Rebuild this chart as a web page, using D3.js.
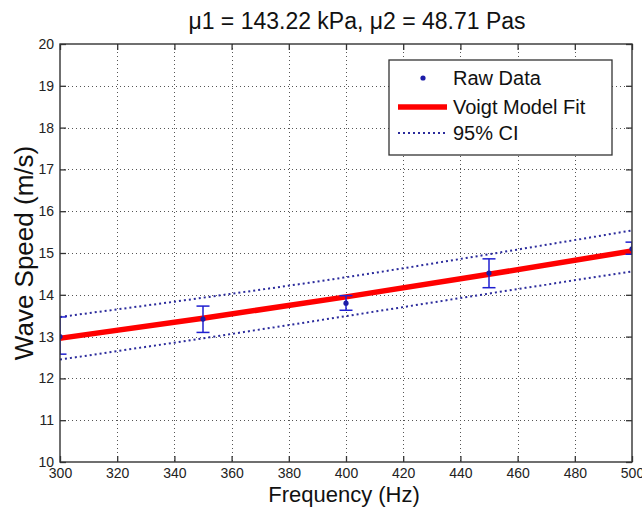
<!DOCTYPE html>
<html>
<head>
<meta charset="utf-8">
<script src="https://cdn.jsdelivr.net/npm/d3@7"></script>
<style>
  body { margin: 0; background: #fff; }
  svg { display: block; font-family: "Liberation Sans", Arial, sans-serif; }
</style>
</head>
<body>
<div id="chart"></div>
<script>
/* wave speed vs frequency, Voigt fit with 95% CI */

const freqs     = [300, 350, 400, 450, 500];
const rawSpeed  = [13.0, 13.42, 13.8, 14.52, 15.1];
const errLow    = [12.58, 13.1, 13.63, 14.17, 14.97];
const errHigh   = [13.47, 13.73, 13.98, 14.86, 15.26];
const fitSpeed  = [12.96, 13.44, 13.95, 14.49, 15.05];
const ciUpper   = [13.47, 13.93, 14.42, 14.97, 15.54];
const ciLower   = [12.45, 12.96, 13.49, 14.03, 14.56];
const xTickVals = [300, 320, 340, 360, 380, 400, 420, 440, 460, 480, 500];
const yTickVals = [10, 11, 12, 13, 14, 15, 16, 17, 18, 19, 20];
const legendLabels = ["Raw Data", "Voigt Model Fit", "95% CI"];
const titleText = "\u03bc1 = 143.22 kPa, \u03bc2 = 48.71 Pas";

const width = 642, height = 509,
    margin = ({top: 44, right: 10, bottom: 47, left: 60});

const svg = d3.select("#chart")
    .append("svg")
    .attr("width", width)
    .attr("height", height)
    .attr("viewBox", [0, 0, width, height]);

svg.append("rect").attr("width", width).attr("height", height).attr("fill", "#fff");

const x = d3.scaleLinear()
    .domain([300, 500])
    .range([margin.left, width - margin.right]);

const y = d3.scaleLinear()
    .domain([10, 20])
    .range([height - margin.bottom, margin.top]);

const x0 = x.range()[0], x1 = x.range()[1],
    y0 = y.range()[0], y1 = y.range()[1];

svg.append("clipPath").attr("id", "plot")
  .append("rect")
    .attr("x", x0).attr("y", y1)
    .attr("width", x1 - x0).attr("height", y0 - y1);

/* dotted grid */
const grid = svg.append("g")
    .attr("stroke", "#555")
    .attr("stroke-width", 1)
    .attr("stroke-dasharray", "1,3");

grid.selectAll(".vx")
    .data(xTickVals.slice(1, -1))
    .join("line")
    .attr("x1", d => Math.round(x(d)) + 0.5).attr("x2", d => Math.round(x(d)) + 0.5)
    .attr("y1", y1).attr("y2", y0);

grid.selectAll(".hy")
    .data(yTickVals.slice(1, -1))
    .join("line")
    .attr("y1", d => Math.round(y(d)) + 0.5).attr("y2", d => Math.round(y(d)) + 0.5)
    .attr("x1", x0).attr("x2", x1);

/* axes: ticks point inward, box on */
const tickLen = 6;
const xAxis = g => g
    .attr("transform", `translate(0,${y0})`)
    .call(d3.axisBottom(x).tickValues(xTickVals).tickSizeInner(-tickLen).tickSizeOuter(0).tickPadding(6))
    .call(g => g.select(".domain").remove());

const yAxis = g => g
    .attr("transform", `translate(${x0},0)`)
    .call(d3.axisLeft(y).tickValues(yTickVals).tickSizeInner(-tickLen).tickSizeOuter(0).tickPadding(6))
    .call(g => g.select(".domain").remove());

const xTop = g => g
    .attr("transform", `translate(0,${y1})`)
    .call(d3.axisTop(x).tickValues(xTickVals).tickSizeInner(-tickLen).tickSizeOuter(0).tickFormat(""))
    .call(g => g.select(".domain").remove());

const yRight = g => g
    .attr("transform", `translate(${x1},0)`)
    .call(d3.axisRight(y).tickValues(yTickVals).tickSizeInner(-tickLen).tickSizeOuter(0).tickFormat(""))
    .call(g => g.select(".domain").remove());

[xAxis, yAxis, xTop, yRight].forEach(a => {
  svg.append("g").call(a)
    .call(g => g.selectAll("line").attr("stroke", "#333").attr("stroke-width", 1.3))
    .call(g => g.selectAll("text").attr("font-size", 14).attr("fill", "#222")
        .attr("font-family", "Liberation Sans, Arial, sans-serif"));
});

/* curves */
const pts = arr => freqs.map((f, i) => [f, arr[i]]);
const line = d3.line()
    .x(d => x(d[0]))
    .y(d => y(d[1]))
    .curve(d3.curveMonotoneX);

const plot = svg.append("g").attr("clip-path", "url(#plot)");

[ciUpper, ciLower].forEach(arr => {
  plot.append("path")
      .attr("d", line(pts(arr)))
      .attr("fill", "none")
      .attr("stroke", "#2b2b9c")
      .attr("stroke-width", 2)
      .attr("stroke-dasharray", "2,3");
});

plot.append("path")
    .attr("d", line(pts(fitSpeed)))
    .attr("fill", "none")
    .attr("stroke", "#ff0000")
    .attr("stroke-width", 5.5);

/* error bars + raw points */
const capW = 6.5;
const bars = plot.selectAll(".bar")
    .data(freqs.map((f, i) => ({f, v: rawSpeed[i], lo: errLow[i], hi: errHigh[i]})))
    .join("g")
    .attr("class", "bar")
    .attr("stroke", "#1f1fd0")
    .attr("stroke-width", 1.5);

bars.append("line")
    .attr("x1", d => x(d.f)).attr("x2", d => x(d.f))
    .attr("y1", d => y(d.lo)).attr("y2", d => y(d.hi));
bars.append("line")
    .attr("x1", d => x(d.f) - capW).attr("x2", d => x(d.f) + capW)
    .attr("y1", d => y(d.lo)).attr("y2", d => y(d.lo));
bars.append("line")
    .attr("x1", d => x(d.f) - capW).attr("x2", d => x(d.f) + capW)
    .attr("y1", d => y(d.hi)).attr("y2", d => y(d.hi));

plot.selectAll(".pt")
    .data(freqs.map((f, i) => [f, rawSpeed[i]]))
    .join("circle")
    .attr("cx", d => x(d[0]))
    .attr("cy", d => y(d[1]))
    .attr("r", 2.6)
    .attr("fill", "#1c1ca8");

/* axis box */
svg.append("rect")
    .attr("x", x0).attr("y", y1)
    .attr("width", x1 - x0).attr("height", y0 - y1)
    .attr("fill", "none")
    .attr("stroke", "#333")
    .attr("stroke-width", 1.4);

/* titles */
svg.append("text")
    .text(titleText)
    .attr("x", 357).attr("y", 29)
    .attr("text-anchor", "middle")
    .attr("font-size", 23)
    .attr("fill", "#111");

svg.append("text")
    .text("Frequency (Hz)")
    .attr("x", 344).attr("y", 502)
    .attr("text-anchor", "middle")
    .attr("font-size", 22)
    .attr("fill", "#111");

svg.append("text")
    .text("Wave Speed (m/s)")
    .attr("transform", `translate(33,${(y0 + y1) / 2}) rotate(-90)`)
    .attr("text-anchor", "middle")
    .attr("font-size", 26)
    .attr("fill", "#111");

/* legend */
const lg = svg.append("g").attr("transform", "translate(389,60)");
lg.append("rect")
    .attr("width", 223).attr("height", 95)
    .attr("fill", "#fff")
    .attr("stroke", "#333")
    .attr("stroke-width", 1.3);

const rowY = [18, 47, 73];
lg.append("circle").attr("cx", 34).attr("cy", rowY[0]).attr("r", 2.6).attr("fill", "#1c1ca8");
lg.append("line").attr("x1", 9).attr("x2", 58).attr("y1", rowY[1]).attr("y2", rowY[1])
    .attr("stroke", "#ff0000").attr("stroke-width", 5.5);
lg.append("line").attr("x1", 9).attr("x2", 58).attr("y1", rowY[2]).attr("y2", rowY[2])
    .attr("stroke", "#2b2b9c").attr("stroke-width", 2).attr("stroke-dasharray", "2,3");

lg.selectAll(".lt")
    .data(legendLabels)
    .join("text")
    .text(d => d)
    .attr("x", 64)
    .attr("y", (d, i) => rowY[i] + 7)
    .attr("font-size", 20)
    .attr("fill", "#111");
</script>
</body>
</html>
